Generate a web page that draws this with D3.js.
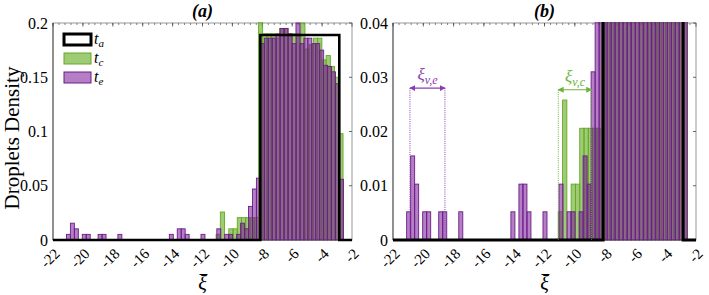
<!DOCTYPE html>
<html>
<head>
<meta charset="utf-8">
<script src="https://cdn.jsdelivr.net/npm/d3@7"></script>
<style>
  body { margin: 0; background: #fff; }
  svg { display: block; }
  text { font-family: "Liberation Serif", "DejaVu Serif", serif; fill: #000; }
</style>
</head>
<body>
<div id="chart"></div>
<script>
// histogram bins (xi bar)
const teStart = -21.10, teWidth = 0.2647;   // t_e bins (purple)
const tcStart = -11.09, tcWidth = 0.283;    // t_c bins (green)

const teDensity = [
  0.0052, 0.0155, 0.0103, 0, 0.0052, 0.0052, 0, 0, 0.0052, 0.0052,
  0, 0, 0, 0.0052, 0, 0, 0, 0, 0, 0,
  0, 0, 0, 0, 0, 0, 0.0052, 0, 0.0103, 0.0103,
  0.0052, 0, 0, 0, 0.0052, 0, 0, 0, 0.0103, 0,
  0.0052, 0.0052, 0, 0.0052, 0.0155, 0.0103, 0.031, 0.047, 0.057, 0.181,
  0.186, 0.186, 0.186, 0.190, 0.195, 0.195, 0.190, 0.181, 0.200, 0.181,
  0.186, 0.186, 0.181, 0.181, 0.175, 0.161, 0.160, 0.155, 0.144, 0.056
];

const tcDensity = [
  0.0052, 0.0258, 0, 0.0103, 0.0103, 0.0206, 0.0206, 0.0206, 0.0206, 0.0206,
  0.205, 0.19, 0.19, 0.19, 0.186, 0.195, 0.195, 0.19, 0.19, 0.19,
  0.2, 0.176, 0.18, 0.186, 0.186, 0.166, 0.17, 0.16, 0.15, 0.098
];

// t_a : uniform block drawn as stairs
const taEdges = [-22, -8.13, -2.85, -2];
const taDensity = [0, 0.189, 0];

const xTicks = [-22, -20, -18, -16, -14, -12, -10, -8, -6, -4, -2];
const yTicksA = [0, 0.05, 0.1, 0.15, 0.2];
const yTicksB = [0, 0.01, 0.02, 0.03, 0.04];
const yLabelsA = ["0", "0.05", "0.1", "0.15", "0.2"];
const yLabelsB = ["0", "0.01", "0.02", "0.03", "0.04"];

// spread markers in panel (b)
const spreads = [
  { name: "e", from: -20.88, to: -18.57, level: 0.0280, color: "#8a3cb0" },
  { name: "c", from: -11.09, to: -8.89, level: 0.0277, color: "#6cb33a" }
];

const W = 709, H = 295;
const plotTop = 23, plotBottom = 240;

const svg = d3.select("#chart").append("svg")
  .attr("width", W).attr("height", H);

const defs = svg.append("defs");
spreads.forEach(s => {
  ["start", "end"].forEach(side => {
    defs.append("marker")
      .attr("id", "arr-" + s.name + "-" + side)
      .attr("viewBox", "0 0 10 10")
      .attr("refX", side === "end" ? 9 : 1).attr("refY", 5)
      .attr("markerWidth", 6).attr("markerHeight", 6)
      .attr("markerUnits", "userSpaceOnUse")
      .attr("orient", "auto")
      .append("path")
      .attr("d", side === "end" ? "M0,0 L10,5 L0,10 z" : "M10,0 L0,5 L10,10 z")
      .attr("fill", s.color);
  });
});

const panels = [
  { id: "a", x0: 53, x1: 352, yMax: 0.2, ticks: yTicksA, labels: yLabelsA, title: "(a)", legend: true },
  { id: "b", x0: 393, x1: 696, yMax: 0.04, ticks: yTicksB, labels: yLabelsB, title: "(b)", legend: false }
];

const teBins = teDensity.map((v, i) => ({ x0: teStart + i * teWidth, x1: teStart + (i + 1) * teWidth, v }));
const tcBins = tcDensity.map((v, i) => ({ x0: tcStart + i * tcWidth, x1: tcStart + (i + 1) * tcWidth, v }));

const green = { fill: "rgb(90,165,20)", op: 0.58, stroke: "rgb(100,170,35)" };
const purple = { fill: "rgb(120,20,150)", op: 0.55, stroke: "rgb(105,30,135)" };

panels.forEach(p => {
  const x = d3.scaleLinear().domain([-22, -2]).range([p.x0, p.x1]);
  const y = d3.scaleLinear().domain([0, p.yMax]).range([plotBottom, plotTop]);
  const g = svg.append("g");

  defs.append("clipPath").attr("id", "clip-" + p.id)
    .append("rect").attr("x", p.x0).attr("y", plotTop - 1)
    .attr("width", p.x1 - p.x0).attr("height", plotBottom - plotTop + 3);

  // frame
  g.append("rect").attr("x", p.x0).attr("y", plotTop)
    .attr("width", p.x1 - p.x0).attr("height", plotBottom - plotTop)
    .attr("fill", "none").attr("stroke", "#999").attr("stroke-width", 1);
  g.append("line").attr("x1", p.x0).attr("x2", p.x0).attr("y1", plotTop).attr("y2", plotBottom)
    .attr("stroke", "#555");

  // top axis ticks (major + minor)
  const minor = d3.range(-22, -2.001, 0.4);
  g.selectAll(".mt").data(minor).join("line")
    .attr("x1", d => x(d)).attr("x2", d => x(d))
    .attr("y1", plotTop).attr("y2", plotTop + 2)
    .attr("stroke", "#666").attr("stroke-width", 0.8);
  g.selectAll(".Mt").data(xTicks).join("line")
    .attr("x1", d => x(d)).attr("x2", d => x(d))
    .attr("y1", plotTop).attr("y2", plotTop + 3.5)
    .attr("stroke", "#444").attr("stroke-width", 0.8);
  // right side y ticks
  g.selectAll(".rt").data(p.ticks).join("line")
    .attr("x1", p.x1 - 3).attr("x2", p.x1)
    .attr("y1", d => y(d)).attr("y2", d => y(d))
    .attr("stroke", "#444").attr("stroke-width", 0.8);

  const plot = g.append("g").attr("clip-path", "url(#clip-" + p.id + ")");

  function bars(data, st) {
    plot.append("g").selectAll("rect").data(data.filter(d => d.v > 0)).join("rect")
      .attr("x", d => x(d.x0))
      .attr("width", d => x(d.x1) - x(d.x0))
      .attr("y", d => y(Math.min(d.v, p.yMax * 1.05)))
      .attr("height", d => plotBottom - y(Math.min(d.v, p.yMax * 1.05)))
      .attr("fill", st.fill).attr("fill-opacity", st.op)
      .attr("stroke", st.stroke).attr("stroke-width", 0.9);
  }
  bars(tcBins, green);
  bars(teBins, purple);

  // t_a stairs on top
  const stairs = [];
  taDensity.forEach((v, i) => {
    stairs.push([taEdges[i], v]);
    stairs.push([taEdges[i + 1], v]);
  });
  plot.append("path")
    .attr("d", d3.line().x(d => x(d[0])).y(d => y(d[1]))(stairs))
    .attr("fill", "none").attr("stroke", "#000")
    .attr("stroke-width", p.id === "a" ? 2.6 : 3);

  // y tick labels
  g.selectAll(".yl").data(p.ticks).join("text")
    .attr("x", p.x0 - 5).attr("y", d => y(d))
    .attr("dy", "0.35em").attr("text-anchor", "end")
    .style("font-size", "16px")
    .text((d, i) => p.labels[i]);

  // x tick labels rotated
  g.selectAll(".xl").data(xTicks).join("text")
    .attr("transform", d => `translate(${x(d) + 4},${plotBottom + 11}) rotate(-45)`)
    .attr("text-anchor", "end").attr("dy", "0.35em")
    .style("font-size", "15px")
    .text(d => d);

  // x label: xi bar
  const cx = (p.x0 + p.x1) / 2;
  g.append("text").attr("x", cx).attr("y", 290)
    .attr("text-anchor", "middle")
    .style("font-size", "20px").style("font-style", "italic")
    .text("ξ");
  g.append("line").attr("x1", cx - 3).attr("x2", cx + 5)
    .attr("y1", 274.5).attr("y2", 274.5).attr("stroke", "#000").attr("stroke-width", 1);

  // title
  g.append("text").attr("x", cx).attr("y", 17)
    .attr("text-anchor", "middle")
    .style("font-size", "18px").style("font-style", "italic").style("font-weight", "bold")
    .text(p.title);

  if (p.id === "b") {
    spreads.forEach(s => {
      [s.from, s.to].forEach(v => {
        g.append("line").attr("x1", x(v)).attr("x2", x(v))
          .attr("y1", y(s.level)).attr("y2", plotBottom)
          .attr("stroke", s.color).attr("stroke-width", 1)
          .attr("stroke-dasharray", "1,1.2");
      });
      g.append("line").attr("x1", x(s.from)).attr("x2", x(s.to))
        .attr("y1", y(s.level)).attr("y2", y(s.level))
        .attr("stroke", s.color).attr("stroke-width", 1.2)
        .attr("marker-start", "url(#arr-" + s.name + "-start)")
        .attr("marker-end", "url(#arr-" + s.name + "-end)");
      const t = g.append("text")
        .attr("x", (x(s.from) + x(s.to)) / 2).attr("y", y(s.level) - 8)
        .attr("text-anchor", "middle")
        .style("font-size", "17px").style("font-style", "italic")
        .style("fill", s.color);
      t.append("tspan").text("ξ");
      t.append("tspan").attr("dy", 4).style("font-size", "12px").text("v," + s.name);
    });
  }

  if (p.legend) {
    const items = [
      { sub: "a", fill: "#fff", op: 1, stroke: "#000", sw: 3 },
      { sub: "c", fill: green.fill, op: green.op, stroke: green.stroke, sw: 1 },
      { sub: "e", fill: purple.fill, op: purple.op, stroke: purple.stroke, sw: 1 }
    ];
    const lg = g.append("g");
    items.forEach((it, i) => {
      const yy = 34 + i * 19;
      lg.append("rect").attr("x", 64).attr("y", yy)
        .attr("width", 27).attr("height", 11)
        .attr("fill", it.fill).attr("fill-opacity", it.op)
        .attr("stroke", it.stroke).attr("stroke-width", it.sw);
      const t = lg.append("text").attr("x", 94).attr("y", yy + 10)
        .style("font-size", "16px").style("font-style", "italic");
      t.append("tspan").text("t");
      t.append("tspan").attr("dy", 3).style("font-size", "11px").text(it.sub);
    });
  }
});

// shared y label
svg.append("text")
  .attr("transform", "translate(19,138) rotate(-90)")
  .attr("text-anchor", "middle")
  .style("font-size", "21px")
  .text("Droplets Density");
</script>
</body>
</html>
